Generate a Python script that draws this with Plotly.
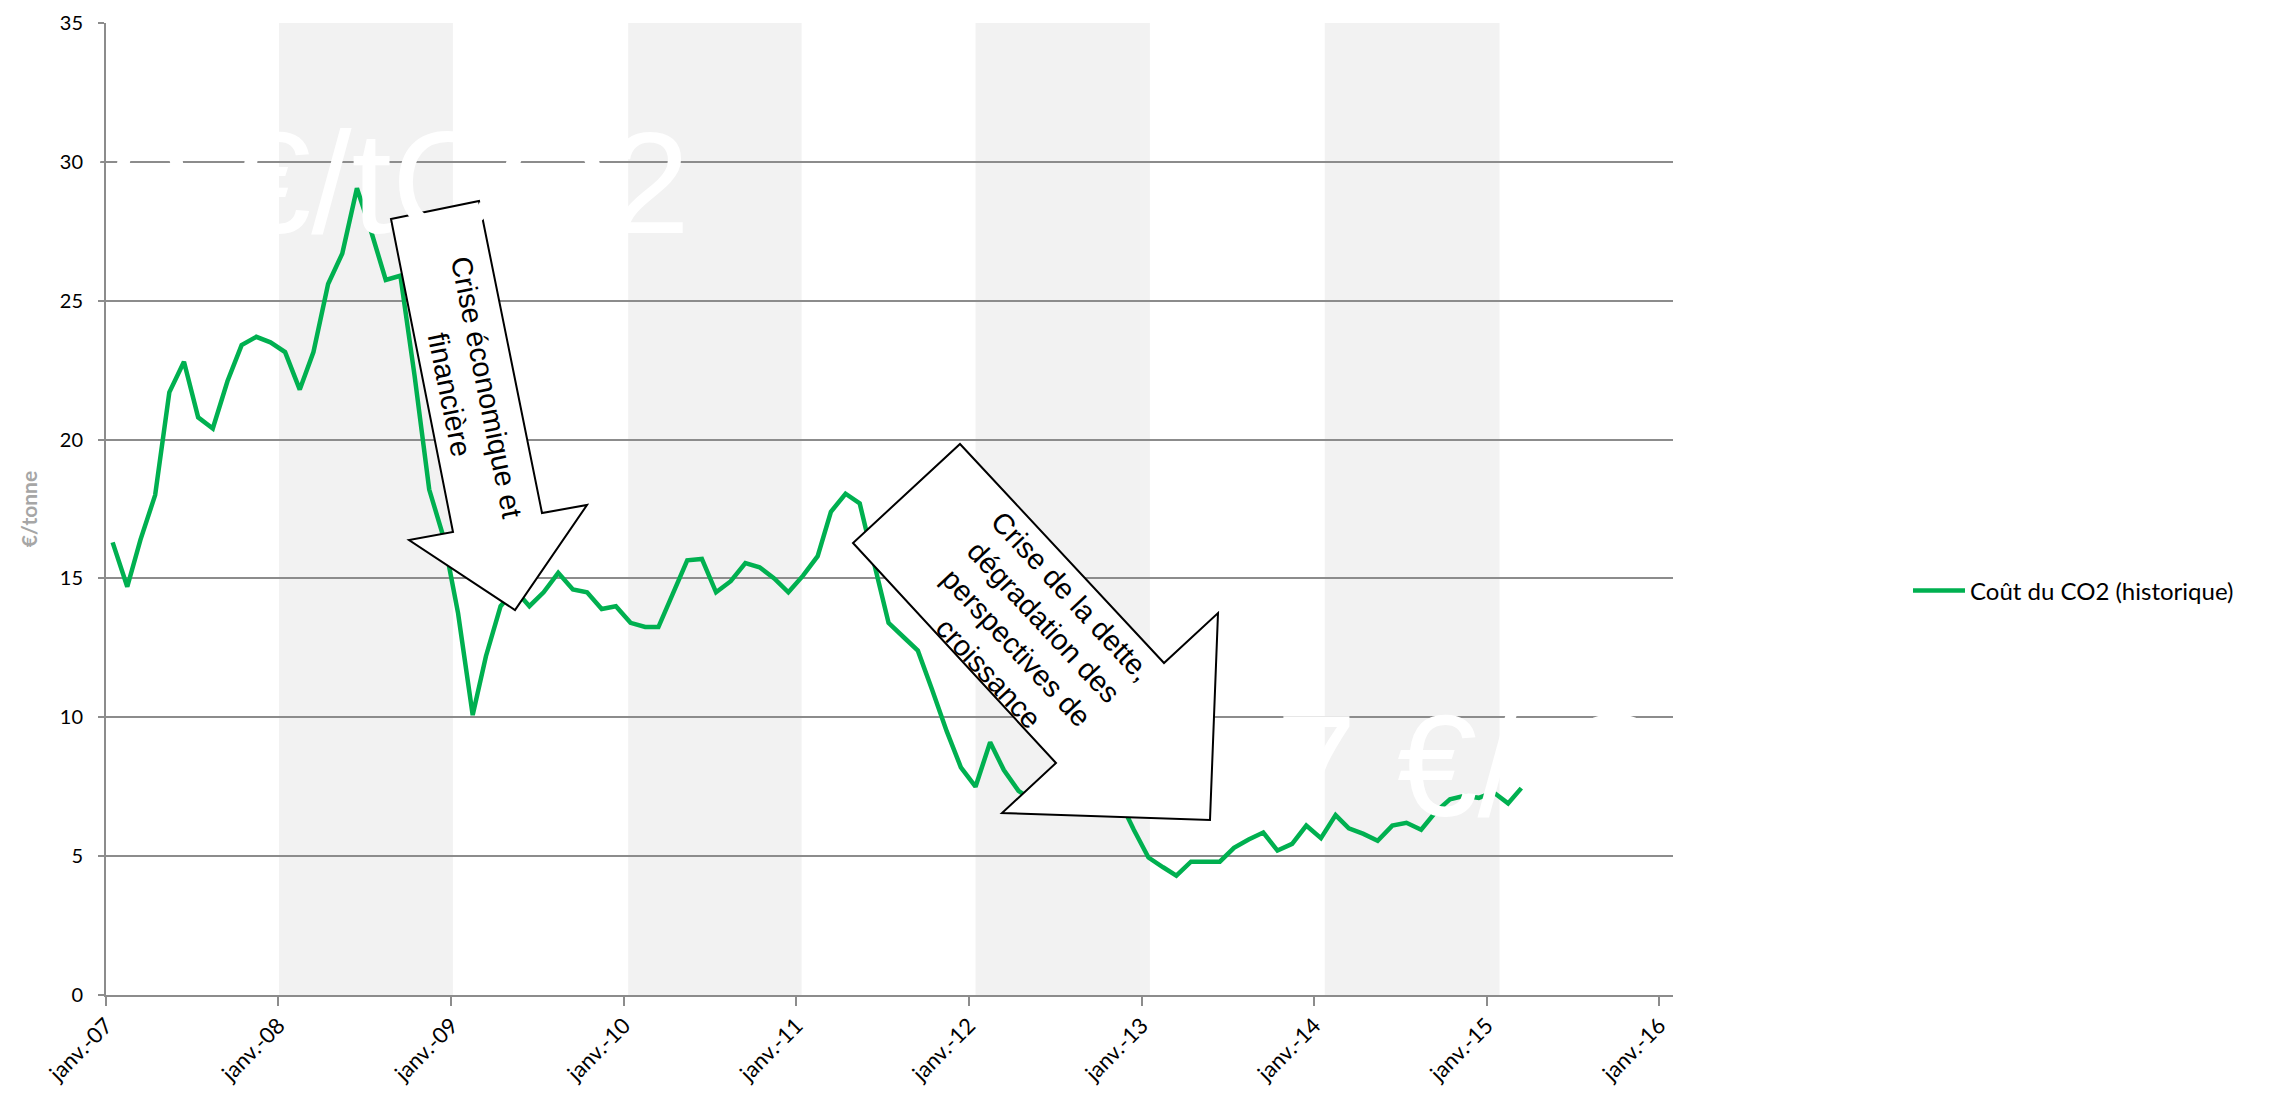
import pandas as pd
import plotly.graph_objects as go

# ---------------- data ----------------
series_name = "Coût du CO2 (historique)"
first_month = "2007-01-01"
co2_price = [
    16.3, 14.7, 16.4, 18.0, 21.7, 22.8, 20.8, 20.4, 22.1, 23.4, 23.7, 23.5,      # 2007
    23.15, 21.8, 23.15, 25.6, 26.7, 29.05, 27.5, 25.75, 25.9, 22.3, 18.2, 16.5,  # 2008
    13.75, 10.08, 12.2, 14.0, 14.6, 14.0, 14.5, 15.2, 14.6, 14.5, 13.9, 14.0,    # 2009
    13.4, 13.25, 13.25, 14.5, 15.65, 15.7, 14.5, 14.9, 15.55, 15.4, 15.0, 14.5,  # 2010
    15.1, 15.8, 17.4, 18.05, 17.7, 15.5, 13.4, 12.9, 12.4, 11.0, 9.5, 8.2,       # 2011
    7.5, 9.1, 8.1, 7.35, 7.0, 7.4, 7.3, 7.6, 7.9, 7.6, 7.0, 5.95,                # 2012
    4.95, 4.6, 4.3, 4.8, 4.8, 4.8, 5.3, 5.6, 5.85, 5.2, 5.44, 6.1,               # 2013
    5.65, 6.48, 6.0, 5.8, 5.55, 6.1, 6.2, 5.95, 6.6, 7.05, 7.17, 7.1,            # 2014
    7.3, 6.9, 7.45,                                                              # 2015
]
months = pd.date_range(first_month, periods=len(co2_price), freq="MS") + pd.Timedelta(days=14)

tick_years = list(range(2007, 2017))
tick_labels = [f"janv.-{str(y)[2:]}" for y in tick_years]
y_ticks = [0, 5, 10, 15, 20, 25, 30, 35]

shaded_periods = [
    ("2008-01-02", "2009-01-04"),
    ("2010-01-10", "2011-01-12"),
    ("2012-01-15", "2013-01-18"),
    ("2014-01-23", "2015-01-28"),
]

arrow1_text = "Crise économique et<br>financière"
arrow2_text = "Crise de la dette,<br>dégradation des<br>perspectives de<br>croissance"
big_text_1 = "30 €/tCO2"
big_text_2 = "7 €/tCO2"

# ---------------- layout geometry (page pixels, body margin 8px) ----------------
PAGE_W, PAGE_H = 2271, 1095
BODY = 8
W, H = PAGE_W - 2 * BODY, PAGE_H - 2 * BODY
PLOT_L, PLOT_R, PLOT_T, PLOT_B = 106, 1673, 23, 995      # page coordinates
ML = PLOT_L - BODY
MT = PLOT_T - BODY
PW = PLOT_R - PLOT_L
PH = PLOT_B - PLOT_T
MR = W - ML - PW
MB = H - MT - PH


def px(x):
    return (x - PLOT_L) / PW


def py(y):
    return (PLOT_B - y) / PH


def path(pts):
    return "M " + " L ".join(f"{px(x):.5f},{py(y):.5f}" for x, y in pts) + " Z"


GREEN = "#00B050"
GRID = "#8C8C8C"
FONT = "Lato"
ARIAL = "Liberation Sans, Arial"

fig = go.Figure()
fig.add_trace(go.Scatter(
    x=months, y=co2_price, mode="lines", name=series_name,
    line=dict(color=GREEN, width=4.5),
    showlegend=True,
))

shapes = []
for s, e in shaded_periods:
    shapes.append(dict(type="rect", xref="x", yref="paper", x0=s, x1=e, y0=0, y1=1,
                       fillcolor="#F2F2F2", line=dict(width=0), layer="below"))

arrow1 = [(391, 219), (479, 201), (542, 513), (587, 505), (515, 610), (409, 540), (453, 532)]
arrow2 = [(960, 444), (1164, 663), (1218, 613), (1210, 820), (1002, 813), (1056, 763), (853, 543)]
for pts in (arrow1, arrow2):
    shapes.append(dict(type="path", xref="paper", yref="paper", path=path(pts),
                       fillcolor="white", line=dict(color="black", width=2), layer="above"))

annotations = [
    dict(text=arrow1_text, xref="paper", yref="paper", x=px(468), y=py(391),
         xanchor="center", yanchor="middle", textangle=78.7, showarrow=False,
         font=dict(family=ARIAL, size=29, color="black")),
    dict(text=arrow2_text, xref="paper", yref="paper", x=px(1030), y=py(634),
         xanchor="center", yanchor="middle", textangle=47, showarrow=False,
         font=dict(family=ARIAL, size=29, color="black")),
    dict(text=big_text_1, xref="paper", yref="paper", x=px(28), y=py(101),
         xanchor="left", yanchor="top", showarrow=False, borderpad=0,
         font=dict(family=ARIAL, size=145, color="white")),
    dict(text=big_text_2, xref="paper", yref="paper", x=px(1275), y=py(684),
         xanchor="left", yanchor="top", showarrow=False, borderpad=0,
         font=dict(family=ARIAL, size=145, color="white")),
]

fig.update_layout(
    width=W, height=H,
    margin=dict(l=ML, r=MR, t=MT, b=MB, autoexpand=False),
    paper_bgcolor="white", plot_bgcolor="white",
    font=dict(family=FONT, size=21, color="black"),
    shapes=shapes, annotations=annotations,
    legend=dict(x=px(1908), y=py(591), xanchor="left", yanchor="middle",
                font=dict(family=FONT, size=24, color="black"),
                bgcolor="rgba(0,0,0,0)", itemwidth=52),
    xaxis=dict(type="date", range=["2007-01-01", "2016-01-30"],
               tickvals=[f"{y}-01-01" for y in tick_years], ticktext=tick_labels,
               tickangle=-45, showgrid=False, zeroline=False,
               showline=True, linecolor=GRID, linewidth=2,
               ticks="outside", ticklen=9, tickcolor=GRID, tickwidth=2,
               ticklabelstandoff=-2,
               tickfont=dict(family=FONT, size=22, color="black")),
    yaxis=dict(range=[0, 35], tickvals=y_ticks, showgrid=True, gridcolor=GRID, gridwidth=1.5,
               zeroline=False, showline=True, linecolor=GRID, linewidth=2,
               ticks="outside", ticklen=6, tickcolor=GRID, tickwidth=2,
               ticklabelstandoff=11,
               tickfont=dict(family=FONT, size=20, color="black"),
               title=dict(text="<b>€/tonne</b>", standoff=16,
                          font=dict(family=FONT, size=21, color="#A6A6A6"))),
)

fig.write_html("out.html")
